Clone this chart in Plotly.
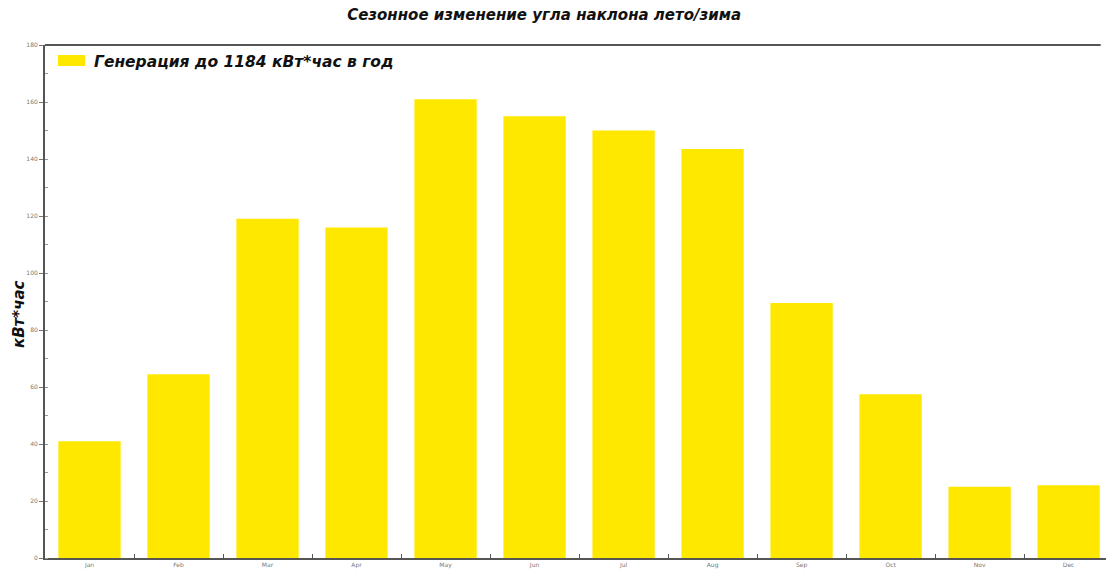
import plotly.graph_objects as go

months = ["Jan", "Feb", "Mar", "Apr", "May", "Jun", "Jul", "Aug", "Sep", "Oct", "Nov", "Dec"]
values = [41, 64.5, 119, 116, 161, 155, 150, 143.5, 89.5, 57.5, 25, 25.5]
series_name = "Генерация до 1184 кВт*час в год"
title_text = "Сезонное изменение угла наклона лето/зима"
y_title = "кВт*час"

bar_color = "#FFE800"
font_fam = "DejaVu Sans"

fig = go.Figure()
fig.add_trace(go.Bar(
    x=months, y=values, name=series_name,
    marker=dict(color=bar_color, line=dict(width=0)),
    width=0.7, showlegend=False,
))

fig.update_layout(
    width=1106, height=572,
    margin=dict(l=45, r=0, t=45, b=14),
    paper_bgcolor="white", plot_bgcolor="white",
    title=dict(text="<b><i>" + title_text + "</i></b>", x=0.492, xanchor="center",
               y=0.974, yanchor="middle", font=dict(family=font_fam, size=15, color="#111")),
    showlegend=False,
)

fig.update_xaxes(
    range=[-0.5, 11.42], showgrid=False, showline=True, linecolor="#555", linewidth=2,
    ticks="inside", tickson="boundaries", ticklen=4, tickcolor="#555",
    tickfont=dict(family=font_fam, size=6, color="#777"),
    layer="below traces", fixedrange=True,
)
fig.update_yaxes(
    range=[0, 180], dtick=20, showgrid=False, showline=True, linecolor="#555", linewidth=2,
    ticks="outside", ticklen=4, tickcolor="#777",
    tickfont=dict(family=font_fam, size=6, color="#777"),
    minor=dict(dtick=10, ticks="inside", ticklen=3, tickcolor="#999"),
    zeroline=False,
)
# y-axis title
fig.add_annotation(xref="paper", yref="paper", x=(19 - 45) / 1061, y=(558 - 314) / 513,
                   xanchor="center", yanchor="middle", textangle=-90, showarrow=False,
                   text="<b><i>" + y_title + "</i></b>",
                   font=dict(family=font_fam, size=15, color="#111"))
# top border line
fig.add_shape(type="line", xref="paper", yref="paper", x0=0, x1=0.995, y0=1, y1=1,
              line=dict(color="#555", width=2))
# legend: wide swatch + label
fig.add_shape(type="rect", xref="paper", yref="paper",
              x0=13 / 1061, x1=40 / 1061, y0=1 - 21 / 513, y1=1 - 10 / 513,
              fillcolor=bar_color, line=dict(width=0))
fig.add_annotation(xref="paper", yref="paper", x=47 / 1061, y=1 - 16.5 / 513,
                   xanchor="left", yanchor="middle", showarrow=False,
                   text="<b><i>" + series_name + "</i></b>",
                   font=dict(family=font_fam, size=15.5, color="#111"))

fig.write_html("out.html")
